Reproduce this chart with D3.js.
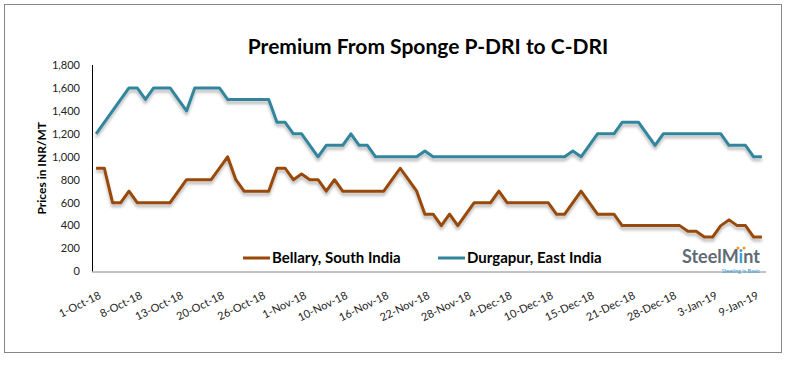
<!DOCTYPE html>
<html lang="en">
<head>
  <meta charset="UTF-8">
  <title>Premium From Sponge P-DRI to C-DRI</title>
  <script src="https://d3js.org/d3.v7.min.js"></script>
  <style>
    body { margin: 0; background: #fff; }
    svg text { font-family: Lato, "Open Sans", sans-serif; }
    .ytick { font-size: 11px; fill: #222; text-anchor: end; }
    .xtick { font-size: 11px; fill: #222; text-anchor: end; }
    .series { fill: none; stroke-width: 3px; stroke-linejoin: round; }
  </style>
</head>
<body>
  <svg width="788" height="366"></svg>
  <script>
    // trading days shown on the category axis
    const dates = [
      "1-Oct-18","3-Oct-18","4-Oct-18","5-Oct-18","6-Oct-18",
      "8-Oct-18","9-Oct-18","10-Oct-18","11-Oct-18","12-Oct-18",
      "13-Oct-18","15-Oct-18","16-Oct-18","17-Oct-18","18-Oct-18",
      "20-Oct-18","22-Oct-18","23-Oct-18","24-Oct-18","25-Oct-18",
      "26-Oct-18","27-Oct-18","29-Oct-18","30-Oct-18","31-Oct-18",
      "1-Nov-18","2-Nov-18","3-Nov-18","5-Nov-18","6-Nov-18",
      "10-Nov-18","12-Nov-18","13-Nov-18","14-Nov-18","15-Nov-18",
      "16-Nov-18","17-Nov-18","19-Nov-18","20-Nov-18","21-Nov-18",
      "22-Nov-18","23-Nov-18","24-Nov-18","26-Nov-18","27-Nov-18",
      "28-Nov-18","29-Nov-18","30-Nov-18","1-Dec-18","3-Dec-18",
      "4-Dec-18","5-Dec-18","6-Dec-18","7-Dec-18","8-Dec-18",
      "10-Dec-18","11-Dec-18","12-Dec-18","13-Dec-18","14-Dec-18",
      "15-Dec-18","17-Dec-18","18-Dec-18","19-Dec-18","20-Dec-18",
      "21-Dec-18","22-Dec-18","24-Dec-18","26-Dec-18","27-Dec-18",
      "28-Dec-18","29-Dec-18","31-Dec-18","1-Jan-19","2-Jan-19",
      "3-Jan-19","4-Jan-19","5-Jan-19","7-Jan-19","8-Jan-19",
      "9-Jan-19","10-Jan-19"
    ];

    const bellary = [
      900,900,600,600,700, 600,600,600,600,600,
      700,800,800,800,800, 900,1000,800,700,700,
      700,700,900,900,800, 850,800,800,700,800,
      700,700,700,700,700, 700,800,900,800,700,
      500,500,400,500,400, 500,600,600,600,700,
      600,600,600,600,600, 600,500,500,600,700,
      600,500,500,500,400, 400,400,400,400,400,
      400,400,350,350,300, 300,400,450,400,400,
      300,300
    ];

    const durgapur = [
      1200,1300,1400,1500,1600, 1600,1500,1600,1600,1600,
      1500,1400,1600,1600,1600, 1600,1500,1500,1500,1500,
      1500,1500,1300,1300,1200, 1200,1100,1000,1100,1100,
      1100,1200,1100,1100,1000, 1000,1000,1000,1000,1000,
      1050,1000,1000,1000,1000, 1000,1000,1000,1000,1000,
      1000,1000,1000,1000,1000, 1000,1000,1000,1050,1000,
      1100,1200,1200,1200,1300, 1300,1300,1200,1100,1200,
      1200,1200,1200,1200,1200, 1200,1200,1100,1100,1100,
      1000,1000
    ];

    const yTicks = [0, 200, 400, 600, 800, 1000, 1200, 1400, 1600, 1800];
    const seriesNames = ["Bellary, South India", "Durgapur, East India"];
    const colors = ["#984807", "#31859c"];

    const svg = d3.select("svg");

    // drop shadow like the spreadsheet lines
    const f = svg.append("defs").append("filter")
      .attr("id", "shadow").attr("x", "-5%").attr("y", "-20%")
      .attr("width", "110%").attr("height", "160%");
    f.append("feDropShadow")
      .attr("dx", 0).attr("dy", 3).attr("stdDeviation", 1.5)
      .attr("flood-color", "#000").attr("flood-opacity", 0.28);

    // outer chart border
    svg.append("rect")
      .attr("x", 4.5).attr("y", 4.5)
      .attr("width", 777).attr("height", 348)
      .attr("fill", "none").attr("stroke", "#868686");

    svg.append("text")
      .attr("x", 428).attr("y", 54)
      .attr("text-anchor", "middle")
      .style("font-size", "21px").style("font-weight", "bold")
      .attr("fill", "#000")
      .text("Premium From Sponge P-DRI to C-DRI");

    const plotL = 92, plotR = 766, plotT = 65, plotB = 271.5;

    const x = d3.scaleBand().domain(d3.range(dates.length)).range([plotL, plotR]).padding(0);
    const cx = i => x(i) + x.bandwidth() / 2;
    const y = d3.scaleLinear().domain([0, 1800]).range([plotB, plotT]);

    // y axis
    svg.append("line")
      .attr("x1", plotL + 0.5).attr("x2", plotL + 0.5)
      .attr("y1", plotT).attr("y2", plotB)
      .attr("stroke", "#000");

    svg.selectAll(".ytick").data(yTicks).join("text")
      .attr("class", "ytick")
      .attr("x", 80).attr("y", d => y(d)).attr("dy", "0.35em")
      .text(d3.format(","));

    svg.append("text")
      .attr("transform", `translate(46,${(plotT + plotB) / 2}) rotate(-90)`)
      .attr("text-anchor", "middle")
      .style("font-size", "12px").style("font-weight", "bold")
      .text("Prices in INR/MT");

    // x axis
    svg.append("line")
      .attr("x1", plotL).attr("x2", plotR)
      .attr("y1", plotB + 0.5).attr("y2", plotB + 0.5)
      .attr("stroke", "#868686");

    const labelIdx = d3.range(0, dates.length, 5);
    svg.selectAll(".xtick").data(labelIdx).join("text")
      .attr("class", "xtick")
      .attr("transform", i => `translate(${cx(i) + 4},${plotB + 23}) rotate(-26)`)
      .attr("dy", "0.35em")
      .text(i => dates[i]);

    // lines
    const line = d3.line().x((d, i) => cx(i)).y(d => y(d));
    [bellary, durgapur].forEach((s, k) => {
      svg.append("path")
        .datum(s)
        .attr("class", "series")
        .attr("stroke", colors[k])
        .attr("filter", "url(#shadow)")
        .attr("d", line);
    });

    // legend
    const legendX = [243, 438];
    seriesNames.forEach((name, k) => {
      const g = svg.append("g").attr("transform", `translate(${legendX[k]},258)`);
      g.append("line").attr("x1", 0).attr("x2", 27)
        .attr("stroke", colors[k]).attr("stroke-width", 3);
      g.append("text").attr("x", 29).attr("dy", "0.36em")
        .style("font-size", "15px").style("font-weight", "bold")
        .text(name);
    });

    // SteelMint mark
    const logo = svg.append("text")
      .attr("x", 682).attr("y", 263)
      .style("font-size", "18px").style("font-weight", "bold")
      .attr("fill", "#5f6b75");
    logo.append("tspan").text("SteelM");
    logo.append("tspan").attr("fill", "#3d9ad6").text("i");
    logo.append("tspan").text("nt");
    [738, 744].forEach(dx => {
      svg.append("circle").attr("cx", dx).attr("cy", 248).attr("r", 1.6).attr("fill", "#f39c26");
    });
    svg.append("text")
      .attr("x", 760).attr("y", 273).attr("text-anchor", "end")
      .style("font-size", "5.5px").attr("fill", "#3d9ad6")
      .text("Steeling is Basic");
  </script>
</body>
</html>
